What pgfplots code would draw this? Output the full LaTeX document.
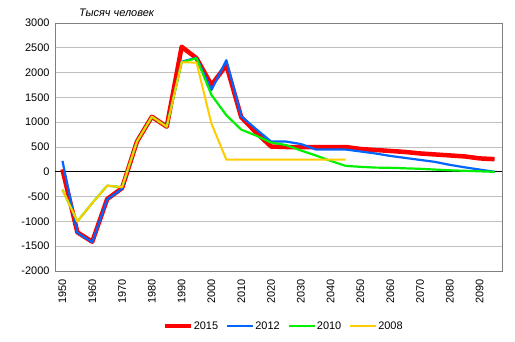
\documentclass[border=0pt]{standalone}
\usepackage{fontspec}
\setmainfont{Liberation Sans}
\usepackage{pgfplots}
\pgfplotsset{compat=1.18}
\definecolor{cred}{HTML}{FF0000}
\definecolor{cblue}{HTML}{0066FF}
\definecolor{cgreen}{HTML}{00F000}
\definecolor{cyellow}{HTML}{FFCC00}
\definecolor{cgrid}{HTML}{C0C0C0}
\definecolor{cframe}{HTML}{808080}
\begin{document}
\begin{tikzpicture}
\begin{axis}[
  at={(0,0)}, anchor=south west,
  scale only axis, width=447bp, height=248bp,
  xmin=1947.5, xmax=2097.5, ymin=-2000, ymax=3000,
  xtick={1950,1960,...,2090},
  ytick={-2000,-1500,-1000,-500,500,1000,1500,2000,2500,3000},
  extra y ticks={0},
  extra y tick style={grid style={black, line width=1bp}},
  ymajorgrids, grid style={cgrid, line width=0.8bp},
  axis line style={cframe, line width=0.9bp},
  major tick length=0pt,
  /pgf/number format/assume math mode=true,
  /pgf/number format/set thousands separator={},
  tick label style={font=\fontsize{11}{13}\selectfont},
  x tick label style={rotate=90, anchor=east, xshift=-5bp},
  xticklabel style={/pgf/number format/1000 sep={}},
  yticklabel style={xshift=-2bp},
  legend columns=4,
  legend style={at={(0.510,-0.222)}, anchor=center, draw=none, fill=none,
    font=\fontsize{11}{13}\selectfont,
    /tikz/every even column/.append style={column sep=7bp},
    nodes={inner sep=1bp}},
  legend image code/.code={\draw[#1] (0bp,0bp) -- (26bp,0bp);},
]
\addplot[cred, line width=4.5bp, line join=round] coordinates {
(1950,50) (1955,-1220) (1960,-1410) (1965,-550) (1970,-330) (1975,610) (1980,1110) (1985,910)
(1990,2520) (1995,2290) (2000,1750) (2005,2150) (2010,1100) (2015,790) (2020,510) (2025,500)
(2030,500) (2035,500) (2040,500) (2045,500) (2050,460) (2055,440) (2060,420) (2065,400)
(2070,370) (2075,350) (2080,330) (2085,310) (2090,270) (2095,255)};
\addlegendentry{2015}
\addplot[cblue, line width=2.2bp, line join=round] coordinates {
(1950,220) (1955,-1230) (1960,-1420) (1965,-560) (1970,-340) (1975,610) (1980,1110) (1985,910)
(1990,2220) (1995,2300) (2000,1650) (2005,2250) (2010,1120) (2015,860) (2020,610) (2025,610)
(2030,560) (2035,450) (2040,450) (2045,450) (2050,410) (2055,370) (2060,320) (2065,280)
(2070,240) (2075,200) (2080,140) (2085,90) (2090,45) (2095,0)};
\addlegendentry{2012}
\addplot[cgreen, line width=2.2bp, line join=round] coordinates {
(1950,-360) (1955,-1000) (1960,-630) (1965,-280) (1970,-310) (1975,610) (1980,1110) (1985,910)
(1990,2210) (1995,2290) (2000,1550) (2005,1140) (2010,850) (2015,730) (2020,590) (2025,540)
(2030,430) (2035,330) (2040,220) (2045,120) (2050,100) (2055,85) (2060,80) (2065,70)
(2070,60) (2075,45) (2080,30) (2085,20) (2090,10) (2095,0)};
\addlegendentry{2010}
\addplot[cyellow, line width=2bp, line join=round] coordinates {
(1950,-360) (1955,-1000) (1960,-630) (1965,-280) (1970,-310) (1975,610) (1980,1110) (1985,910)
(1990,2210) (1995,2200) (2000,970) (2005,245) (2010,245) (2015,245) (2020,245) (2025,245)
(2030,245) (2035,245) (2040,245) (2045,245)};
\addlegendentry{2008}
\end{axis}
\node[anchor=base west, font=\itshape\fontsize{11}{13}\selectfont, inner sep=0pt] at (24bp,254bp) {Тысяч человек};
\pgfresetboundingbox
\path[use as bounding box] (-55bp,-71bp) rectangle (460bp,271bp);
\end{tikzpicture}
\end{document}
